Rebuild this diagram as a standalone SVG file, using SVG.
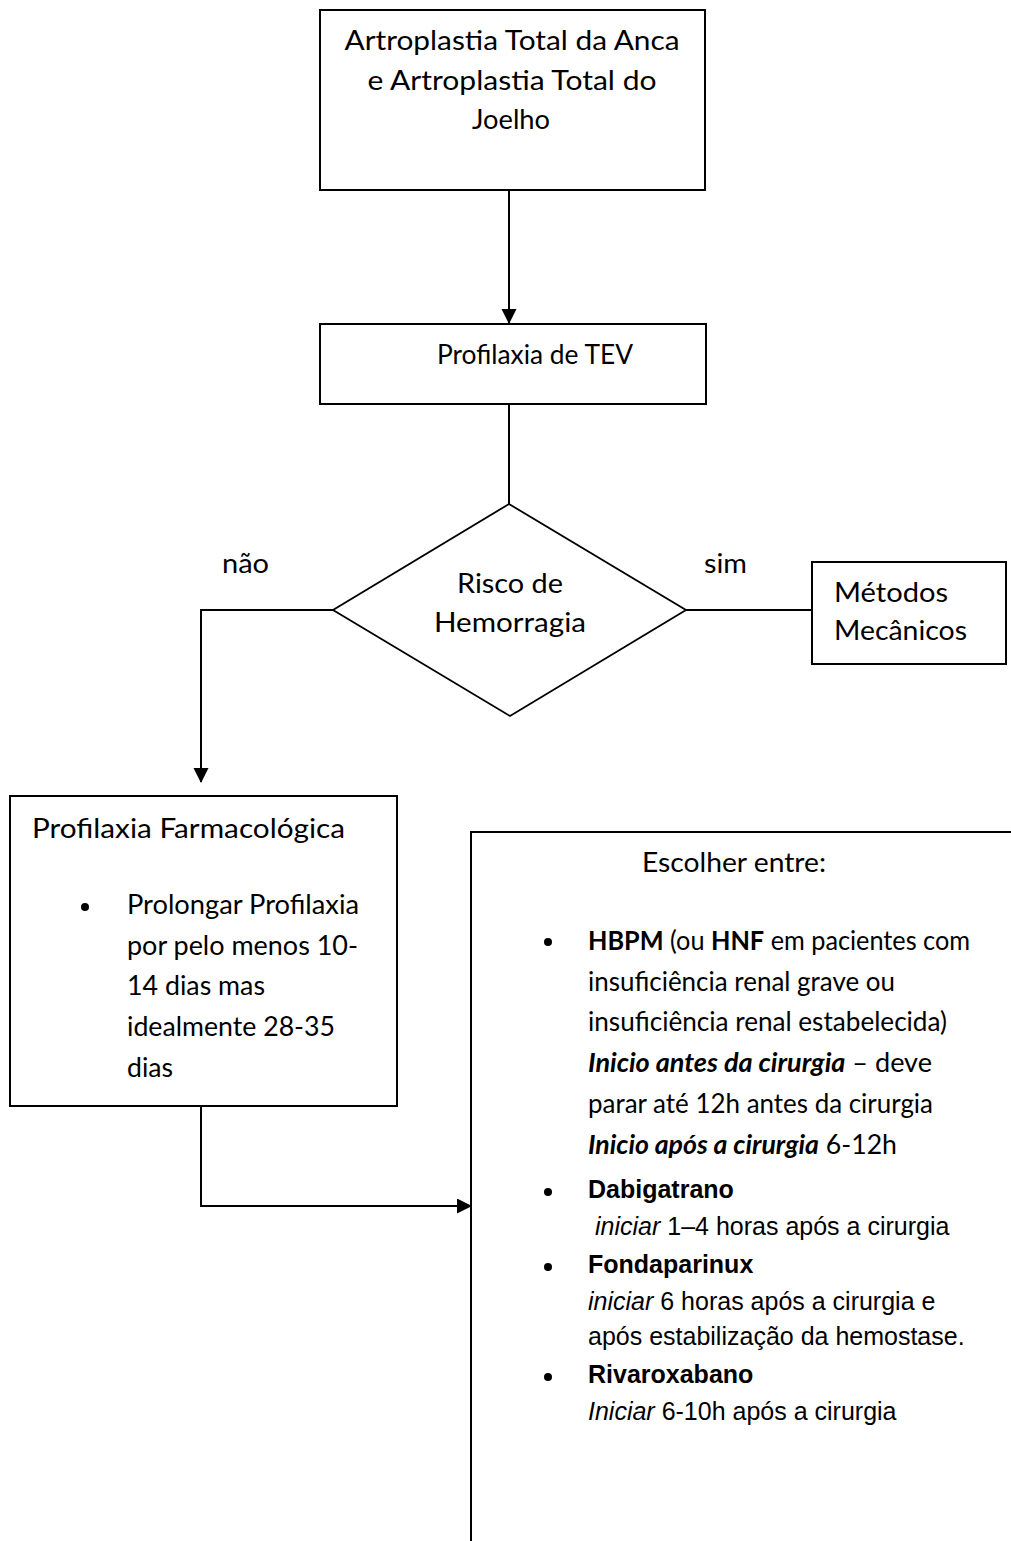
<svg xmlns="http://www.w3.org/2000/svg" width="1011" height="1541" viewBox="0 0 1011 1541">
<defs>
<marker id="arr" markerUnits="userSpaceOnUse" markerWidth="16" markerHeight="16" refX="14" refY="7.5" orient="auto"><path d="M0,0 L15,7.5 L0,15 z" fill="#000"/></marker>
</defs>
<style>
.box{fill:#fff;stroke:#000;stroke-width:2}
.dia{fill:#fff;stroke:#000;stroke-width:1.8}
.ln{fill:none;stroke:#000;stroke-width:2}
.c{font-family:Lato,'Open Sans',sans-serif;font-size:26px;fill:#000}
.a{font-family:'Liberation Sans',Arial,sans-serif;font-size:25px;fill:#000}
.b{font-weight:bold}
.i{font-style:italic}
.dot{fill:#000}
</style>
<rect width="1011" height="1541" fill="#fff"/>

<g id="connectors">
<path class="ln" d="M509,190 V323" marker-end="url(#arr)"/>
<path class="ln" d="M509,404 V504"/>
<path class="ln" d="M333,610 H201 V782" marker-end="url(#arr)"/>
<path class="ln" d="M686,610 H812"/>
<path class="ln" d="M201,1106 V1206 H471" marker-end="url(#arr)"/>
</g>

<g id="n-top">
<rect class="box" x="320" y="10" width="385" height="180"/>
<text class="c" x="512" y="50" text-anchor="middle" textLength="335" lengthAdjust="spacingAndGlyphs">Artroplastia Total da Anca</text>
<text class="c" x="512" y="90" text-anchor="middle" textLength="289" lengthAdjust="spacingAndGlyphs">e Artroplastia Total do</text>
<text class="c" x="511" y="129" text-anchor="middle" textLength="78" lengthAdjust="spacingAndGlyphs">Joelho</text>
</g>

<g id="n-tev">
<rect class="box" x="320" y="324" width="386" height="80"/>
<text class="c" x="437" y="364" textLength="196" lengthAdjust="spacingAndGlyphs">Profilaxia de TEV</text>
</g>

<g id="n-risk">
<polygon class="dia" points="509,504 686,610 510,716 333,610"/>
<text class="c" x="457" y="593" textLength="106" lengthAdjust="spacingAndGlyphs">Risco de</text>
<text class="c" x="434" y="632" textLength="152" lengthAdjust="spacingAndGlyphs">Hemorragia</text>
</g>

<g id="labels">
<text class="c" x="222" y="573" textLength="47" lengthAdjust="spacingAndGlyphs">não</text>
<text class="c" x="704" y="573" textLength="43" lengthAdjust="spacingAndGlyphs">sim</text>
</g>

<g id="n-mec">
<rect class="box" x="812" y="562" width="194" height="102"/>
<text class="c" x="834" y="602" textLength="114" lengthAdjust="spacingAndGlyphs">Métodos</text>
<text class="c" x="834" y="640" textLength="133" lengthAdjust="spacingAndGlyphs">Mecânicos</text>
</g>

<g id="n-farm">
<rect class="box" x="10" y="796" width="387" height="310"/>
<text class="c" x="32" y="838" textLength="313" lengthAdjust="spacingAndGlyphs">Profilaxia Farmacológica</text>
<circle class="dot" cx="85" cy="907" r="4"/>
<text class="c" x="127" y="914" textLength="232" lengthAdjust="spacingAndGlyphs">Prolongar Profilaxia</text>
<text class="c" x="127" y="955" textLength="231" lengthAdjust="spacingAndGlyphs">por pelo menos 10-</text>
<text class="c" x="127" y="995" textLength="138" lengthAdjust="spacingAndGlyphs">14 dias mas</text>
<text class="c" x="127" y="1036" textLength="208" lengthAdjust="spacingAndGlyphs">idealmente 28-35</text>
<text class="c" x="127" y="1077" textLength="46" lengthAdjust="spacingAndGlyphs">dias</text>
</g>

<g id="n-choose">
<rect class="box" x="471" y="832" width="700" height="800"/>
<text class="c" x="642" y="872" textLength="184" lengthAdjust="spacingAndGlyphs">Escolher entre:</text>
<circle class="dot" cx="548" cy="942" r="4"/>
<text class="c" x="588" y="950" textLength="382" lengthAdjust="spacingAndGlyphs"><tspan class="b">HBPM</tspan> (ou <tspan class="b">HNF</tspan> em pacientes com</text>
<text class="c" x="588" y="991" textLength="307" lengthAdjust="spacingAndGlyphs">insuficiência renal grave ou</text>
<text class="c" x="588" y="1031" textLength="359" lengthAdjust="spacingAndGlyphs">insuficiência renal estabelecida)</text>
<text class="c" x="588" y="1072" textLength="344" lengthAdjust="spacingAndGlyphs"><tspan class="b i">Inicio antes da cirurgia</tspan> – deve</text>
<text class="c" x="588" y="1113" textLength="345" lengthAdjust="spacingAndGlyphs">parar até 12h antes da cirurgia</text>
<text class="c" x="588" y="1154" textLength="309" lengthAdjust="spacingAndGlyphs"><tspan class="b i">Inicio após a cirurgia</tspan> 6-12h</text>
<circle class="dot" cx="548" cy="1192" r="4"/>
<text class="a b" x="588" y="1198">Dabigatrano</text>
<text class="a" x="595" y="1235"><tspan class="i">iniciar</tspan> 1–4 horas após a cirurgia</text>
<circle class="dot" cx="548" cy="1267" r="4"/>
<text class="a b" x="588" y="1273">Fondaparinux</text>
<text class="a" x="588" y="1310"><tspan class="i">iniciar</tspan> 6 horas após a cirurgia e</text>
<text class="a" x="588" y="1345">após estabilização da hemostase.</text>
<circle class="dot" cx="548" cy="1377" r="4"/>
<text class="a b" x="588" y="1383">Rivaroxabano</text>
<text class="a" x="588" y="1420"><tspan class="i">Iniciar</tspan> 6-10h após a cirurgia</text>
</g>
</svg>
